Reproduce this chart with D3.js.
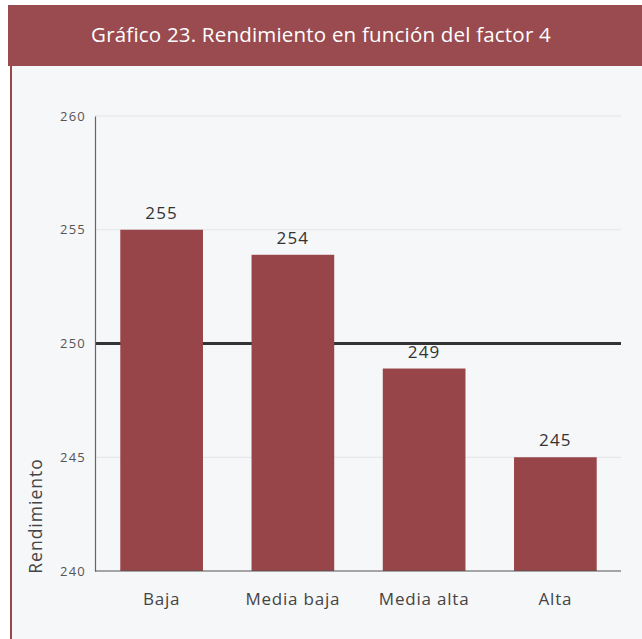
<!DOCTYPE html>
<html><head><meta charset="utf-8">
<script src="https://cdn.jsdelivr.net/npm/d3@7"></script>
<style>
html,body{margin:0;padding:0;background:#fff;}
svg{display:block;}
</style></head>
<body>
<svg id="c" width="642" height="639"></svg>
<script>
const title = "Gráfico 23. Rendimiento en función del factor 4";
const categories = ["Baja", "Media baja", "Media alta", "Alta"];
const values = [255.0, 253.9, 248.9, 245.0];
const valueLabels = ["255", "254", "249", "245"];
const yTicks = [240, 245, 250, 255, 260];
const refValue = 250;
const yTitle = "Rendimiento";

const svg = d3.select("#c");
const W = 642, H = 639;
const font = "'Open Sans', 'Noto Sans', sans-serif";

// panel background
svg.append("rect").attr("x", 11).attr("y", 66).attr("width", W - 11).attr("height", H - 66).attr("fill", "#f6f7f9");
// left border
svg.append("rect").attr("x", 10).attr("y", 60).attr("width", 2).attr("height", H - 60).attr("fill", "#9b474c");
// title bar
svg.append("rect").attr("x", 8).attr("y", 5).attr("width", W - 8).attr("height", 61).attr("fill", "#9a4b50");
svg.append("text").attr("x", 321).attr("y", 42).attr("text-anchor", "middle")
  .attr("fill", "#fff").attr("font-family", font).attr("font-weight", 500).attr("font-size", 20.5)
  .attr("letter-spacing", 0.2)
  .text(title);

const x = d3.scaleBand().domain(categories).range([96, 621]).paddingInner(0.37).paddingOuter(0.185);
const y = d3.scaleLinear().domain([240, 260]).range([571, 116]);

// light gridlines
svg.append("g").selectAll("line").data(yTicks.filter(t => t !== 240 && t !== refValue)).join("line")
  .attr("x1", 95).attr("x2", 621).attr("y1", d => y(d)).attr("y2", d => y(d))
  .attr("stroke", "#e2e4e8").attr("stroke-width", 1);

// bars
svg.append("g").selectAll("rect").data(values).join("rect")
  .attr("x", (d, i) => x(categories[i])).attr("width", x.bandwidth())
  .attr("y", d => y(d)).attr("height", d => y(240) - y(d))
  .attr("fill", "#984549");

// reference line at 250 (behind bars)
svg.insert("line", "g")
  .attr("x1", 95).attr("x2", 621).attr("y1", y(refValue)).attr("y2", y(refValue))
  .attr("stroke", "#333").attr("stroke-width", 3);

// axes
const yAxis = svg.append("g").attr("transform", "translate(95,0)")
  .call(d3.axisLeft(y).tickValues(yTicks).tickSize(0).tickPadding(9).tickFormat(d3.format("d")));
yAxis.select(".domain").attr("stroke", "#666").attr("stroke-width", 1.2);
yAxis.selectAll("text").attr("font-family", font).attr("font-size", 13).attr("fill", "#555").attr("letter-spacing", 1.2);

const xAxis = svg.append("g").attr("transform", "translate(0,571)")
  .call(d3.axisBottom(x).tickSize(0).tickPadding(22));
xAxis.select(".domain").attr("d", "M95,0H621").attr("stroke", "#555").attr("stroke-width", 1.2);
xAxis.selectAll("text").attr("font-family", font).attr("font-size", 17).attr("fill", "#444").attr("letter-spacing", 0.8);

// value labels
svg.append("g").selectAll("text").data(values).join("text")
  .attr("x", (d, i) => x(categories[i]) + x.bandwidth() / 2)
  .attr("y", d => y(d) - 11)
  .attr("text-anchor", "middle").attr("font-family", font).attr("font-size", 17).attr("font-weight", 500)
  .attr("fill", "#333").attr("letter-spacing", 1.2)
  .text((d, i) => valueLabels[i]);

// y title
svg.append("text").attr("transform", "translate(42,516) rotate(-90)")
  .attr("text-anchor", "middle").attr("font-family", font).attr("font-size", 17.5).attr("fill", "#444")
  .attr("letter-spacing", 1)
  .text(yTitle);
</script>
</body></html>
